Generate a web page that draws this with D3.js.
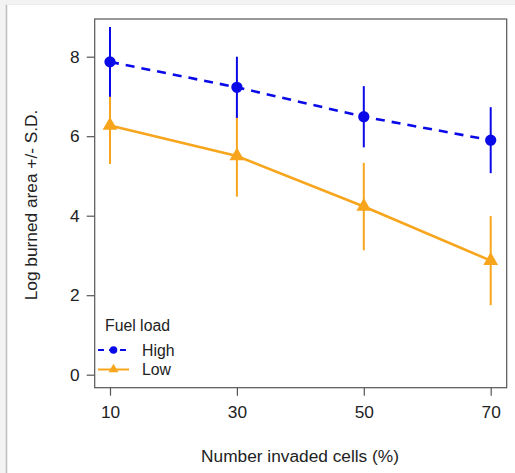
<!DOCTYPE html>
<html>
<head>
<meta charset="utf-8">
<script src="https://cdn.jsdelivr.net/npm/d3@7"></script>
<style>
  html, body { margin: 0; padding: 0; background: #f3f3f3; }
  svg { display: block; }
  text { font-family: "Liberation Sans", Arial, sans-serif; fill: #222; }
</style>
</head>
<body>
<svg id="chart" width="515" height="473"></svg>
<script>
// Percentage of invaded cells (x categories)
const invaded = [10, 30, 50, 70];
// Mean log burned area per fuel load, with standard deviations
const highMean = [7.87, 7.23, 6.49, 5.90];
const highSD   = [0.88, 0.77, 0.77, 0.83];
const lowMean  = [6.27, 5.50, 4.23, 2.87];
const lowSD    = [0.97, 1.02, 1.10, 1.12];
const xTicks = [10, 30, 50, 70];
const yTicks = [0, 2, 4, 6, 8];
const seriesNames = ["High", "Low"];

const svg = d3.select("#chart");

// white card with a thin grey left edge
svg.append("rect").attr("x", 6).attr("y", 4).attr("width", 515).attr("height", 473)
  .attr("fill", "#ffffff");
svg.append("line").attr("x1", 6.5).attr("x2", 6.5).attr("y1", 4).attr("y2", 473)
  .attr("stroke", "#bdbdbd").attr("stroke-width", 1.5);
svg.append("line").attr("x1", 6).attr("x2", 515).attr("y1", 4.5).attr("y2", 4.5)
  .attr("stroke", "#ececec").attr("stroke-width", 1);

const box = { left: 94.7, top: 19, right: 506.7, bottom: 387.7 };

const x = d3.scaleLinear().domain([10, 70]).range([110, 490.7]);
const y = d3.scaleLinear().domain([0, 8]).range([374.7, 56.7]);

// plot frame
svg.append("rect")
  .attr("x", box.left).attr("y", box.top)
  .attr("width", box.right - box.left).attr("height", box.bottom - box.top)
  .attr("fill", "none").attr("stroke", "#555").attr("stroke-width", 1.2);

// axes
const yAxis = svg.append("g")
  .attr("transform", `translate(${box.left},0)`)
  .call(d3.axisLeft(y).tickValues(yTicks).tickSize(8).tickPadding(6).tickFormat(d3.format("d")));
const xAxis = svg.append("g")
  .attr("transform", `translate(0,${box.bottom})`)
  .call(d3.axisBottom(x).tickValues(xTicks).tickSize(8).tickPadding(6).tickFormat(d3.format("d")));
[yAxis, xAxis].forEach(g => {
  g.attr("font-size", null).attr("font-family", null);
  g.select(".domain").remove();
  g.selectAll(".tick line").attr("stroke", "#555").attr("stroke-width", 1.2);
  g.selectAll(".tick text").attr("font-size", 17.3).attr("fill", "#222");
});
yAxis.selectAll(".tick text").attr("dx", "-1");
xAxis.selectAll(".tick text").attr("dy", "0.95em");

// axis titles
svg.append("text")
  .attr("x", 300).attr("y", 462)
  .attr("text-anchor", "middle").attr("font-size", 17.3)
  .text("Number invaded cells (%)");
svg.append("text")
  .attr("transform", `translate(37,205) rotate(-90)`)
  .attr("text-anchor", "middle").attr("font-size", 17.3)
  .text("Log burned area +/- S.D.");

const blue = "#0a0ae8";
const orange = "#f7a51c";

const series = [
  { name: seriesNames[0], mean: highMean, sd: highSD, color: blue, dash: "9,7", shape: d3.symbolCircle, size: 100 },
  { name: seriesNames[1], mean: lowMean, sd: lowSD, color: orange, dash: null, shape: d3.symbolTriangle, size: 95 }
];

const line = d3.line().x(d => x(d.x)).y(d => y(d.y));

// draw low first so the high series sits on top
[series[1], series[0]].forEach(s => {
  const pts = invaded.map((v, i) => ({ x: v, y: s.mean[i], sd: s.sd[i] }));
  const g = svg.append("g");
  g.selectAll("line.err").data(pts).join("line")
    .attr("x1", d => x(d.x)).attr("x2", d => x(d.x))
    .attr("y1", d => y(d.y - d.sd)).attr("y2", d => y(d.y + d.sd))
    .attr("stroke", s.color).attr("stroke-width", 2);
  g.append("path").datum(pts).attr("d", line)
    .attr("fill", "none").attr("stroke", s.color).attr("stroke-width", 2.6)
    .attr("stroke-dasharray", s.dash);
  g.selectAll("path.pt").data(pts).join("path")
    .attr("transform", d => `translate(${x(d.x)},${y(d.y)})`)
    .attr("d", d3.symbol().type(s.shape).size(s.size))
    .attr("fill", s.color);
});

// legend
const leg = svg.append("g");
leg.append("text").attr("x", 105).attr("y", 331).attr("font-size", 15.8).text("Fuel load");
series.forEach((s, i) => {
  const cy = 350 + i * 19.5;
  leg.append("line").attr("x1", 98).attr("x2", 129).attr("y1", cy).attr("y2", cy)
    .attr("stroke", s.color).attr("stroke-width", 2).attr("stroke-dasharray", s.dash ? "6,5" : null);
  leg.append("path").attr("transform", `translate(113.5,${cy})`)
    .attr("d", d3.symbol().type(s.shape).size(s.size * 0.45)).attr("fill", s.color);
  leg.append("text").attr("x", 142).attr("y", cy + 5.8).attr("font-size", 15.8).text(s.name);
});
</script>
</body>
</html>
